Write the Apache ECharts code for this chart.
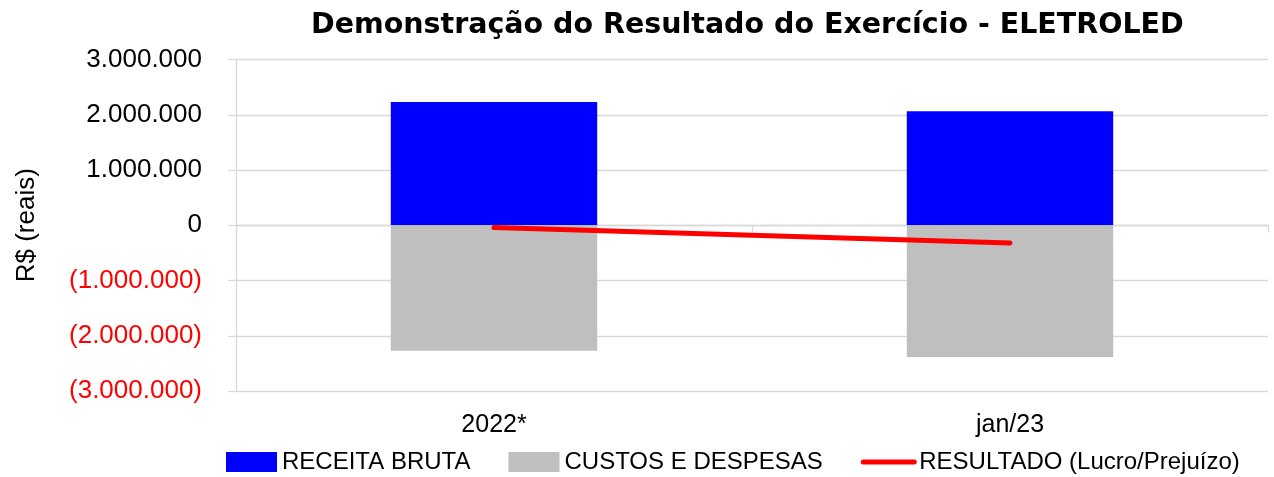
<!DOCTYPE html>
<html>
<head>
<meta charset="utf-8">
<script src="https://cdn.jsdelivr.net/npm/echarts@6/dist/echarts.min.js"></script>
<style>
  html, body { margin: 0; padding: 0; background: #fff; }
  #chart { width: 1274px; height: 477px; }
</style>
</head>
<body>
<div id="chart"></div>
<script>
const categories = ['2022*', 'jan/23']
const receitaBruta = [2230000, 2063000]
const custosDespesas = [-2270000, -2385000]
const resultado = [-40000, -322000]

const GRID_COLOR = '#d9d9d9'
const LABEL_FONT = 'Liberation Sans, Arial, sans-serif'

function formatReais(value) {
  const text = Math.abs(value).toString().replace(/\B(?=(\d{3})+(?!\d))/g, '.')
  if (value < 0) {
    return '{neg|(' + text + ')}'
  }
  return '{pos|' + text + '}'
}

const chart = echarts.init(document.getElementById('chart'), null, { renderer: 'canvas' })

chart.setOption({
  animation: false,
  title: {
    text: 'Demonstração do Resultado do Exercício - ELETROLED',
    left: 311,
    top: 11,
    padding: 0,
    textStyle: {
      fontFamily: 'DejaVu Sans, sans-serif',
      fontWeight: 'bold',
      fontSize: 28.5,
      color: '#000'
    }
  },
  legend: {
    left: 226,
    top: 450,
    itemWidth: 51,
    itemHeight: 20,
    itemGap: 38,
    padding: 0,
    textStyle: {
      fontFamily: LABEL_FONT,
      fontSize: 24,
      color: '#000'
    },
    data: [
      { name: 'RECEITA BRUTA', icon: 'rect' },
      { name: 'CUSTOS E DESPESAS', icon: 'rect' },
      {
        name: 'RESULTADO (Lucro/Prejuízo)',
        itemStyle: { opacity: 0 },
        lineStyle: { width: 5, cap: 'round', color: '#ff0000' }
      }
    ]
  },
  grid: {
    left: 236,
    right: 6,
    top: 59.5,
    bottom: 86
  },
  xAxis: [
    {
      type: 'category',
      data: categories,
      axisLine: {
        onZero: true,
        lineStyle: { color: GRID_COLOR, width: 1.3 }
      },
      axisTick: {
        show: true,
        length: 7,
        lineStyle: { color: GRID_COLOR, width: 1.3 }
      },
      axisLabel: { show: false },
      splitLine: { show: false }
    },
    {
      type: 'category',
      data: categories,
      position: 'bottom',
      axisLine: { show: false },
      axisTick: { show: false },
      axisLabel: {
        margin: 22,
        fontFamily: LABEL_FONT,
        fontSize: 25,
        color: '#000'
      }
    }
  ],
  yAxis: {
    type: 'value',
    min: -3000000,
    max: 3000000,
    interval: 1000000,
    name: 'R$ (reais)',
    nameLocation: 'middle',
    nameGap: 196,
    nameRotate: 90,
    nameTextStyle: {
      fontFamily: LABEL_FONT,
      fontSize: 26,
      color: '#000'
    },
    axisLine: {
      show: true,
      lineStyle: { color: GRID_COLOR, width: 1.3 }
    },
    axisTick: {
      show: true,
      length: 8,
      lineStyle: { color: GRID_COLOR, width: 1.3 }
    },
    axisLabel: {
      margin: 34,
      formatter: (value) => formatReais(value),
      rich: {
        pos: { fontFamily: LABEL_FONT, fontSize: 26, color: '#000' },
        neg: { fontFamily: LABEL_FONT, fontSize: 26, color: '#ff0000' }
      }
    },
    splitLine: {
      lineStyle: { color: GRID_COLOR, width: 1.3 }
    }
  },
  series: [
    {
      name: 'RECEITA BRUTA',
      type: 'bar',
      stack: 'dre',
      barWidth: '40%',
      itemStyle: { color: '#0000ff' },
      data: receitaBruta
    },
    {
      name: 'CUSTOS E DESPESAS',
      type: 'bar',
      stack: 'dre',
      barWidth: '40%',
      itemStyle: { color: '#bfbfbf' },
      data: custosDespesas
    },
    {
      name: 'RESULTADO (Lucro/Prejuízo)',
      type: 'line',
      symbol: 'none',
      showSymbol: false,
      z: 5,
      lineStyle: { color: '#ff0000', width: 5, cap: 'round' },
      itemStyle: { color: '#ff0000' },
      data: resultado
    }
  ]
})
</script>
</body>
</html>
